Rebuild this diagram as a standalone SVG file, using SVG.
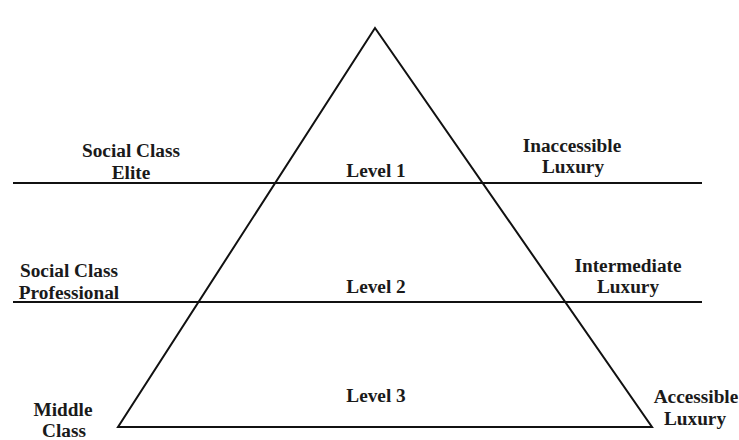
<svg xmlns="http://www.w3.org/2000/svg" width="739" height="440" viewBox="0 0 739 440">
<style>
.t{font-family:"Liberation Serif","Times New Roman",serif;font-weight:bold;font-size:19.3px;fill:#1a1a1a;text-anchor:middle}
.ln{stroke:#111;stroke-width:2;fill:none}
</style>
<rect width="739" height="440" fill="#fff"/>
<g id="connectors">
<line class="ln" x1="13" y1="183" x2="702" y2="183"/>
<line class="ln" x1="13" y1="302" x2="702" y2="302"/>
</g>
<g id="pyramid">
<polygon class="ln" points="375,28 118,427 652,427" stroke-width="2.5"/>
</g>
<g id="level1"><text class="t" x="376" y="177">Level 1</text></g>
<g id="level2"><text class="t" x="376" y="293">Level 2</text></g>
<g id="level3"><text class="t" x="376" y="402">Level 3</text></g>
<g id="elite"><text class="t" x="131" y="157">Social Class</text><text class="t" x="131" y="179">Elite</text></g>
<g id="professional"><text class="t" x="69" y="277">Social Class</text><text class="t" x="69" y="299">Professional</text></g>
<g id="middle"><text class="t" x="63" y="416">Middle</text><text class="t" x="64" y="437">Class</text></g>
<g id="inaccessible"><text class="t" x="572" y="152">Inaccessible</text><text class="t" x="573" y="173">Luxury</text></g>
<g id="intermediate"><text class="t" x="628" y="272">Intermediate</text><text class="t" x="628" y="293">Luxury</text></g>
<g id="accessible"><text class="t" x="696" y="403">Accessible</text><text class="t" x="695" y="425">Luxury</text></g>
</svg>
